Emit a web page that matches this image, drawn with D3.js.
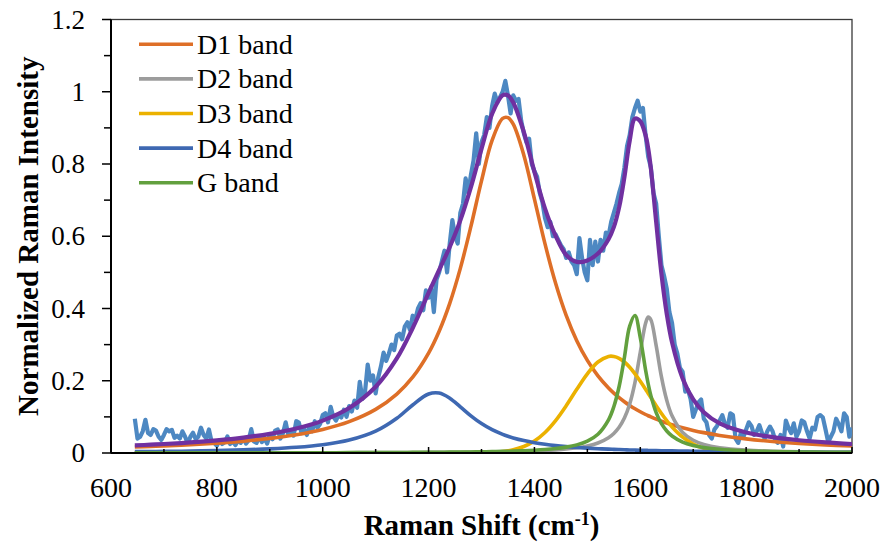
<!DOCTYPE html>
<html>
<head>
<meta charset="utf-8">
<script src="https://cdn.jsdelivr.net/npm/d3@7"></script>
<style>
	body { margin: 0; background: #fff; }
</style>
</head>
<body>
<div id="chart"></div>
<script>
// fitted band curves, sampled on a shared Raman shift grid (cm-1)
const shiftGrid = [645, 675, 700, 750, 800, 850, 900, 950, 1000, 1050,
	1100, 1140, 1170, 1200, 1220, 1240, 1260, 1280, 1300, 1320,
	1340, 1350, 1360, 1380, 1400, 1420, 1440, 1460, 1480, 1500,
	1520, 1540, 1550, 1560, 1570, 1580, 1590, 1600, 1610, 1615,
	1620, 1630, 1640, 1650, 1660, 1680, 1700, 1720, 1750, 1800,
	1850, 1900, 1950, 2000];
const d1Band = [.0168, .0183, .0197, .0230, .0273, .0329, .0404, .0506, .0652, .0868,
	.1207, .1631, .2098, .2766, .3371, .4143, .5111, .6272, .7534, .8652,
	.9263, .9284, .9102, .8244, .7029, .5788, .4699, .3811, .3110, .2563,
	.2135, .1799, .1657, .1531, .1418, .1316, .1224, .1141, .1066, .1031,
	.0998, .0936, .0879, .0827, .0780, .0696, .0625, .0564, .0487, .0390,
	.0319, .0266, .0225, .0192];
const d2Band = [.0003, .0003, .0003, .0004, .0004, .0005, .0005, .0006, .0007, .0009,
	.0010, .0012, .0014, .0016, .0017, .0019, .0022, .0024, .0027, .0031,
	.0036, .0038, .0041, .0049, .0058, .0070, .0087, .0110, .0143, .0194,
	.0276, .0423, .0541, .0711, .0966, .1357, .1956, .2790, .3593, .3765,
	.3689, .2971, .2106, .1458, .1031, .0570, .0353, .0238, .0147, .0079,
	.0050, .0034, .0024, .0019];
const d3Band = [0, 0, 0, 0, 0, 0, 0, 0, 0, 0,
	0, 0, 0, 0, 0, 0, .0001, .0003, .0007, .0018,
	.0042, .0062, .0090, .0180, .0333, .0569, .0898, .1309, .1763, .2192,
	.2519, .2673, .2673, .2621, .2519, .2373, .2192, .1985, .1763, .1648,
	.1534, .1309, .1095, .0898, .0722, .0440, .0247, .0128, .0042, .0004,
	0, 0, 0, 0];
const d4Band = [.0037, .0041, .0045, .0054, .0068, .0087, .0115, .0158, .0229, .0357,
	.0604, .0961, .1330, .1632, .1659, .1517, .1279, .1030, .0816, .0646,
	.0517, .0464, .0418, .0344, .0286, .0241, .0205, .0177, .0154, .0135,
	.0119, .0106, .0100, .0095, .0090, .0085, .0081, .0077, .0073, .0071,
	.0070, .0067, .0064, .0061, .0058, .0054, .0049, .0046, .0041, .0034,
	.0029, .0025, .0022, .0019];
const gBand = [.0003, .0003, .0004, .0004, .0004, .0005, .0006, .0007, .0008, .0010,
	.0012, .0014, .0016, .0018, .0020, .0023, .0026, .0029, .0033, .0038,
	.0045, .0049, .0053, .0063, .0077, .0096, .0123, .0163, .0225, .0329,
	.0520, .0918, .1281, .1841, .2645, .3512, .3805, .3190, .2296, .1910,
	.1588, .1117, .0811, .0609, .0471, .0303, .0210, .0153, .0103, .0061,
	.0040, .0028, .0021, .0016];
const fitSum = [.0211, .0230, .0249, .0292, .0349, .0426, .0530, .0677, .0896, .1244,
	.1833, .2618, .3458, .4432, .5067, .5702, .6439, .7358, .8417, .9385,
	.9903, .9897, .9704, .8880, .7783, .6764, .6012, .5480, .5290, .5330,
	.5520, .5919, .6252, .6799, .7638, .8643, .9258, .9183, .8791, .8425,
	.7879, .6400, .4955, .3853, .3062, .2063, .1484, .1129, .0820, .0568,
	.0438, .0353, .0292, .0246];

// measured spectrum, one reading every 5 cm-1 from 645 to 2000
const measuredShift = d3.range(645, 2001, 5);
const measured = [
	.095, .040, .045, .060, .092, .055, .050, .066, .062, .045,
	.036, .050, .066, .060, .064, .042, .048, .040, .060, .045,
	.026, .045, .056, .038, .045, .070, .050, .040, .065, .032,
	.028, .020, .035, .025, .030, .046, .025, .032, .022, .034,
	.028, .040, .026, .035, .066, .032, .028, .045, .030, .042,
	.026, .050, .038, .062, .065, .040, .055, .085, .050, .062,
	.048, .088, .084, .055, .065, .050, .075, .060, .088, .070,
	.080, .105, .110, .085, .128, .100, .090, .105, .098, .120,
	.100, .130, .115, .145, .125, .197, .150, .170, .245, .200,
	.215, .165, .210, .240, .278, .255, .275, .300, .285, .325,
	.330, .315, .350, .362, .340, .380, .370, .400, .415, .395,
	.450, .430, .460, .390, .480, .500, .530, .560, .500, .580,
	.645, .600, .580, .665, .690, .760, .720, .770, .810, .885,
	.800, .860, .880, .930, .900, .960, .995, .970, .985, 1.000,
	1.030, .990, .940, .990, .975, .980, .920, .885, .860, .870,
	.800, .780, .765, .720, .695, .650, .625, .640, .600, .605,
	.590, .575, .565, .540, .555, .530, .520, .495, .595, .540,
	.500, .478, .590, .520, .585, .530, .590, .560, .610, .600,
	.640, .665, .690, .720, .745, .790, .850, .880, .930, .955,
	.975, .945, .955, .880, .820, .790, .720, .690, .600, .520,
	.490, .455, .390, .360, .300, .275, .235, .225, .170, .175,
	.150, .100, .120, .140, .148, .095, .085, .050, .040, .065,
	.075, .090, .105, .080, .070, .110, .105, .040, .028, .055,
	.045, .065, .085, .075, .050, .060, .077, .055, .040, .060,
	.073, .060, .035, .028, .050, .018, .090, .070, .055, .082,
	.045, .060, .090, .085, .060, .040, .070, .065, .100, .105,
	.098, .065, .030, .045, .060, .095, .080, .060, .110, .100,
	.045, .070];

const legendNames = ['D1 band', 'D2 band', 'D3 band', 'D4 band', 'G band'];
const xTicks = [600, 800, 1000, 1200, 1400, 1600, 1800, 2000];
const yTickLabels = ['0', '0.2', '0.4', '0.6', '0.8', '1', '1.2'];

(() => {
	const width = 885;
	const height = 543;
	const plot = { left: 111, right: 852, top: 19.5, bottom: 453 };
	const serif = "'Liberation Serif', 'Times New Roman', Times, serif";

	const svg = d3.select('#chart').append('svg')
		.attr('width', width)
		.attr('height', height)
		.attr('font-family', serif);

	const x = d3.scaleLinear()
		.domain([600, 2000])
		.range([plot.left, plot.right]);
	const y = d3.scaleLinear()
		.domain([0, 1.2])
		.range([plot.bottom, plot.top]);

	svg.append('defs').append('clipPath')
		.attr('id', 'plot-clip')
		.append('rect')
			.attr('x', plot.left)
			.attr('y', plot.top)
			.attr('width', plot.right - plot.left)
			.attr('height', plot.bottom - plot.top);

	// plot border
	svg.append('rect')
		.attr('x', plot.left)
		.attr('y', plot.top)
		.attr('width', plot.right - plot.left)
		.attr('height', plot.bottom - plot.top)
		.attr('fill', 'none')
		.attr('stroke', '#3a3a3a')
		.attr('stroke-width', 1.3);

	const lines = svg.append('g')
		.attr('clip-path', 'url(#plot-clip)');

	// measured spectrum
	const spectrumLine = d3.line()
		.x((d, i) => x(measuredShift[i]))
		.y(d => y(d));
	lines.append('path')
		.datum(measured)
		.attr('d', spectrumLine)
		.attr('fill', 'none')
		.attr('stroke', '#4d88c2')
		.attr('stroke-width', 4.2)
		.attr('stroke-linejoin', 'round');

	// fitted bands
	const bandLine = d3.line()
		.curve(d3.curveCatmullRom)
		.x((d, i) => x(shiftGrid[i]))
		.y(d => y(d));
	const bands = [
		{ name: legendNames[0], values: d1Band, color: '#de6f27' },
		{ name: legendNames[1], values: d2Band, color: '#9c9c9c' },
		{ name: legendNames[2], values: d3Band, color: '#ebb100' },
		{ name: legendNames[3], values: d4Band, color: '#3e68b2' },
		{ name: legendNames[4], values: gBand, color: '#62a03e' }
	];
	lines.selectAll('.band')
		.data(bands)
		.enter().append('path')
			.attr('class', 'band')
			.attr('d', d => bandLine(d.values))
			.attr('fill', 'none')
			.attr('stroke', d => d.color)
			.attr('stroke-width', 3.6);

	lines.append('path')
		.datum(fitSum)
		.attr('d', bandLine)
		.attr('fill', 'none')
		.attr('stroke', '#7030a0')
		.attr('stroke-width', 4.2);

	// y axis
	const yAxisG = svg.append('g');
	yAxisG.selectAll('.y-tick')
		.data(d3.range(0, 13))
		.enter().append('line')
			.attr('x1', d => plot.left - (d % 2 === 0 ? 9 : 7))
			.attr('x2', plot.left)
			.attr('y1', d => y(d / 10))
			.attr('y2', d => y(d / 10))
			.attr('stroke', '#000')
			.attr('stroke-width', 1.5);
	yAxisG.selectAll('.y-label')
		.data(yTickLabels)
		.enter().append('text')
			.attr('x', 85)
			.attr('y', (d, i) => y(i * 0.2) + 9)
			.attr('text-anchor', 'end')
			.attr('font-size', 27)
			.text(d => d);
	yAxisG.append('line')
		.attr('x1', plot.left)
		.attr('x2', plot.left)
		.attr('y1', plot.top)
		.attr('y2', plot.bottom)
		.attr('stroke', '#000')
		.attr('stroke-width', 2);

	// x axis
	const xAxisG = svg.append('g');
	xAxisG.selectAll('.x-tick')
		.data(d3.range(600, 2001, 100))
		.enter().append('line')
			.attr('x1', d => x(d))
			.attr('x2', d => x(d))
			.attr('y1', plot.bottom)
			.attr('y2', d => plot.bottom - (d % 200 === 0 ? 6 : 4))
			.attr('stroke', '#000')
			.attr('stroke-width', 1.5);
	xAxisG.selectAll('.x-label')
		.data(xTicks)
		.enter().append('text')
			.attr('x', d => x(d))
			.attr('y', 497)
			.attr('text-anchor', 'middle')
			.attr('font-size', 28)
			.text(d => d);
	xAxisG.append('line')
		.attr('x1', plot.left)
		.attr('x2', plot.right)
		.attr('y1', plot.bottom)
		.attr('y2', plot.bottom)
		.attr('stroke', '#000')
		.attr('stroke-width', 2);

	// axis titles
	const xTitle = svg.append('text')
		.attr('x', (plot.left + plot.right) / 2)
		.attr('y', 535)
		.attr('text-anchor', 'middle')
		.attr('font-size', 29)
		.attr('font-weight', 'bold');
	xTitle.append('tspan').text('Raman Shift (cm');
	xTitle.append('tspan')
		.attr('dy', -10)
		.attr('font-size', 18)
		.text('-1');
	xTitle.append('tspan')
		.attr('dy', 10)
		.text(')');

	svg.append('text')
		.attr('transform', `translate(38, ${(plot.top + plot.bottom) / 2}) rotate(-90)`)
		.attr('text-anchor', 'middle')
		.attr('font-size', 29)
		.attr('font-weight', 'bold')
		.text('Normalized Raman Intensity');

	// legend
	const legendItems = svg.append('g').selectAll('.legend-item')
		.data(bands)
		.enter().append('g')
			.attr('class', 'legend-item')
			.attr('transform', (d, i) => `translate(139, ${44.3 + i * 34.6})`);
	legendItems.append('line')
		.attr('x1', 0)
		.attr('x2', 54)
		.attr('stroke', d => d.color)
		.attr('stroke-width', 3.6);
	legendItems.append('text')
		.attr('x', 58)
		.attr('y', 9.5)
		.attr('font-size', 28)
		.text(d => d.name);
})();
</script>
</body>
</html>
